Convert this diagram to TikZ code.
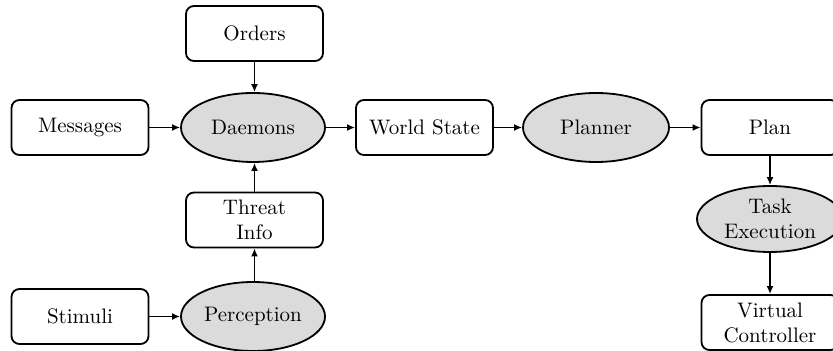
\documentclass[tikz,border=0pt]{standalone}
\usetikzlibrary{arrows.meta,shapes.geometric}
\begin{document}
\begin{tikzpicture}[x=0.5pt,y=-0.5pt,
  font=\fontsize{10.5}{12.5}\selectfont,
  boxnode/.style={draw,line width=0.9pt,rounded corners=4pt,minimum width=68.5pt,minimum height=27.5pt,align=center,inner sep=1pt},
  ellnode/.style={draw,ellipse,line width=0.9pt,fill=gray!28,minimum width=72pt,minimum height=34.5pt,align=center,inner sep=0pt},
  conn/.style={line width=0.9pt,-{Latex[length=4pt,width=3.5pt]}}]
\useasboundingbox (0,0) rectangle (833,351);
\clip (0,0) rectangle (833,351);
\node[boxnode] (orders) at (254.5,33.5) {Orders};
\node[boxnode] (messages) at (80,127.5) {Messages};
\node[ellnode] (daemons) at (253,127.5) {Daemons};
\node[boxnode] (world) at (424.5,127.5) {World State};
\node[ellnode,minimum width=73pt] (planner) at (596,127.5) {Planner};
\node[boxnode] (plan) at (770,127.5) {Plan};
\node[ellnode,minimum width=73pt,minimum height=33pt] (task) at (770,219) {Task\\Execution};
\node[boxnode] (virtual) at (770,322.5) {Virtual\\Controller};
\node[boxnode] (threat) at (254.5,220) {Threat\\Info};
\node[boxnode] (stimuli) at (80,316.5) {Stimuli};
\node[ellnode] (perception) at (253,316.5) {Perception};
\draw[conn] (orders.south) -- (orders.south |- daemons.north);
\draw[conn] (messages) -- (daemons);
\draw[conn] (daemons) -- (world);
\draw[conn] (threat.north) -- (threat.north |- daemons.south);
\draw[conn] (perception.north -| threat.south) -- (threat.south);
\draw[conn] (stimuli) -- (perception);
\draw[conn] (world) -- (planner);
\draw[conn] (planner) -- (plan);
\draw[conn] (plan) -- (task);
\draw[conn] (task) -- (virtual);
\end{tikzpicture}
\end{document}
